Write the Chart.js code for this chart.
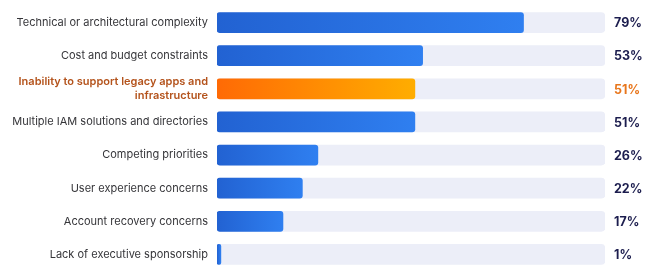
<!DOCTYPE html>
<html>
<head>
<meta charset="utf-8">
<script src="https://cdn.jsdelivr.net/npm/chart.js@4/dist/chart.umd.min.js"></script>
<style>
  html, body { margin:0; padding:0; background:#ffffff; }
  #wrap { width:650px; height:280px; position:relative; }
</style>
</head>
<body>
<div id="wrap"><canvas id="chart"></canvas></div>
<script>
const categories = [
    "Technical or architectural complexity",
    "Cost and budget constraints",
    ["Inability to support legacy apps and", "infrastructure"],
    "Multiple IAM solutions and directories",
    "Competing priorities",
    "User experience concerns",
    "Account recovery concerns",
    "Lack of executive sponsorship"
];
const values = [79, 53, 51, 51, 26, 22, 17, 1];
const trackValues = [100, 100, 100, 100, 100, 100, 100, 100];
const highlightIndex = 2;

function barGradient(context, from, to){
    const chart = context.chart;
    const area = chart.chartArea;
    if(!area) return from;
    const x = chart.scales.x;
    const v = values[context.dataIndex] || 1;
    const x0 = x.getPixelForValue(0);
    const x1 = x.getPixelForValue(v);
    const g = chart.ctx.createLinearGradient(x0, 0, Math.max(x1, x0 + 1), 0);
    g.addColorStop(0, from);
    g.addColorStop(1, to);
    return g;
}

const valueLabels = {
    id: "valueLabels",
    afterDatasetsDraw(chart){
        const c = chart.ctx;
        const meta = chart.getDatasetMeta(1);
        c.save();
        c.font = "bold 12.5px Inter, 'DejaVu Sans', sans-serif";
        c.textBaseline = "middle";
        c.textAlign = "left";
        meta.data.forEach((bar, i) => {
            c.fillStyle = i === highlightIndex ? "#e8761c" : "#1c1d4e";
            c.fillText(values[i] + "%", chart.chartArea.right + 9, bar.y + 1);
        });
        c.restore();
    }
};

const ctx = document.getElementById("chart");

new Chart(ctx, {
    type: "bar",
    data: {
        labels: categories,
        datasets: [
        {
            label: "track",
            data: trackValues,
            backgroundColor: "#eceef8",
            borderRadius: 4,
            borderSkipped: false,
            barThickness: 20,
            order: 2
        },
        {
            label: "share",
            data: values,
            backgroundColor: (context) => context.dataIndex === highlightIndex
                ? barGradient(context, "#ff6a05", "#ffad00")
                : barGradient(context, "#2262d2", "#2f7ff0"),
            borderWidth: 0,
            borderRadius: 3,
            borderSkipped: false,
            barThickness: 20,
            order: 1
        }]
    },
    options: {
        indexAxis: "y",
        responsive: true,
        maintainAspectRatio: false,
        animation: false,
        layout: { padding: { top: 6, bottom: 9, right: 45, left: 0 } },
        plugins: {
            legend: { display: false },
            tooltip: { enabled: false }
        },
        scales: {
            x: {
                display: false,
                min: 0,
                max: 100
            },
            y: {
                stacked: true,
                grid: { display: false, drawTicks: false },
                border: { display: false },
                afterFit: (scale) => {
                    scale.width = 217;
                    scale.paddingTop = 0;
                    scale.paddingBottom = 0;
                },
                ticks: {
                    padding: 9,
                    color: (c) => c.index === highlightIndex ? "#b4531c" : "#353539",
                    font: (c) => ({
                        family: "Inter, 'DejaVu Sans', sans-serif",
                        size: 11,
                        weight: c.index === highlightIndex ? "600" : "400",
                        lineHeight: 1.3
                    })
                }
            }
        }
    },
    plugins: [valueLabels]
});
</script>
</body>
</html>
